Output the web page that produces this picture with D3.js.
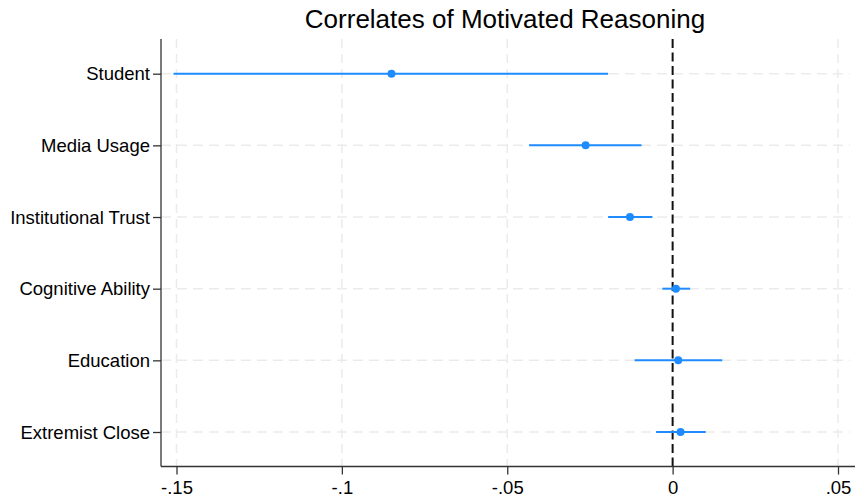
<!DOCTYPE html>
<html>
<head>
<meta charset="utf-8">
<script src="https://cdn.jsdelivr.net/npm/d3@7"></script>
<style>
  html, body { margin: 0; padding: 0; background: #fff; }
  svg { display: block; font-family: "Liberation Sans", Arial, sans-serif; }
</style>
</head>
<body>
<svg id="chart" width="855" height="496"></svg>
<script>
// Coefficient estimates with 95% confidence intervals
const categories = ["Student", "Media Usage", "Institutional Trust", "Cognitive Ability", "Education", "Extremist Close"];
const estimates  = [-0.085, -0.0263, -0.0129, 0.0010, 0.0017, 0.0024];
const ciLower    = [-0.1509, -0.0434, -0.0195, -0.0031, -0.0115, -0.0050];
const ciUpper    = [-0.0195, -0.0094, -0.0061, 0.0053, 0.0150, 0.0100];
const xTickValues = [-0.15, -0.1, -0.05, 0, 0.05];
const xTickLabels = ["-.15", "-.1", "-.05", "0", ".05"];
const title = "Correlates of Motivated Reasoning";

const svg = d3.select("#chart");
const plotLeft = 161, plotRight = 855, plotTop = 39, plotBottom = 466.5;

const x = d3.scaleLinear().domain([-0.15, 0.05]).range([176.5, 838]);
const y = d3.scalePoint().domain(categories).range([73.7, 432]);

const blue = "#1e8cff";
const grid = "#ebebeb";

// Vertical grid lines
svg.append("g").selectAll("line")
  .data(xTickValues.filter(v => v !== 0))
  .join("line")
  .attr("x1", d => x(d)).attr("x2", d => x(d))
  .attr("y1", plotTop).attr("y2", plotBottom)
  .attr("stroke", grid).attr("stroke-width", 1.5)
  .attr("stroke-dasharray", "9,6");

// Horizontal grid lines
svg.append("g").selectAll("line")
  .data(categories)
  .join("line")
  .attr("x1", plotLeft).attr("x2", 850)
  .attr("y1", d => y(d)).attr("y2", d => y(d))
  .attr("stroke", grid).attr("stroke-width", 1.5)
  .attr("stroke-dasharray", "10,6");

// Reference line at zero
svg.append("line")
  .attr("x1", x(0)).attr("x2", x(0))
  .attr("y1", plotTop).attr("y2", plotBottom)
  .attr("stroke", "#111").attr("stroke-width", 2)
  .attr("stroke-dasharray", "9,4.5");

// Axes
const xAxis = d3.axisBottom(x)
  .tickValues(xTickValues)
  .tickFormat((d, i) => xTickLabels[i])
  .tickSize(8).tickSizeOuter(0).tickPadding(2);
const gx = svg.append("g").attr("transform", `translate(0,${plotBottom})`).call(xAxis);
gx.select(".domain").attr("d", `M${plotLeft},0H${plotRight}`);

const yAxis = d3.axisLeft(y).tickSize(8).tickSizeOuter(0).tickPadding(3);
const gy = svg.append("g").attr("transform", `translate(${plotLeft},0)`).call(yAxis);
gy.select(".domain").attr("d", `M0,${plotTop}V${plotBottom}`);

[gx, gy].forEach(g => {
  g.select(".domain").attr("stroke", "#333").attr("stroke-width", 1.3);
  g.selectAll(".tick line").attr("stroke", "#333").attr("stroke-width", 1.3);
  g.selectAll(".tick text").attr("fill", "#000").attr("font-size", 18.5)
    .attr("font-family", "'Liberation Sans', Arial, sans-serif");
});

gx.selectAll(".tick text").attr("dy", null).attr("y", 27);
gy.selectAll(".tick text").attr("dy", "0.34em");

// Confidence intervals
svg.append("g").selectAll("line")
  .data(categories)
  .join("line")
  .attr("x1", (d, i) => x(ciLower[i])).attr("x2", (d, i) => x(ciUpper[i]))
  .attr("y1", d => y(d)).attr("y2", d => y(d))
  .attr("stroke", blue).attr("stroke-width", 2);

// Point estimates
svg.append("g").selectAll("circle")
  .data(categories)
  .join("circle")
  .attr("cx", (d, i) => x(estimates[i]))
  .attr("cy", d => y(d))
  .attr("r", 4)
  .attr("fill", blue);

// Title
svg.append("text")
  .attr("x", 505).attr("y", 28)
  .attr("text-anchor", "middle")
  .attr("font-size", 26)
  .attr("fill", "#000")
  .text(title);
</script>
</body>
</html>
